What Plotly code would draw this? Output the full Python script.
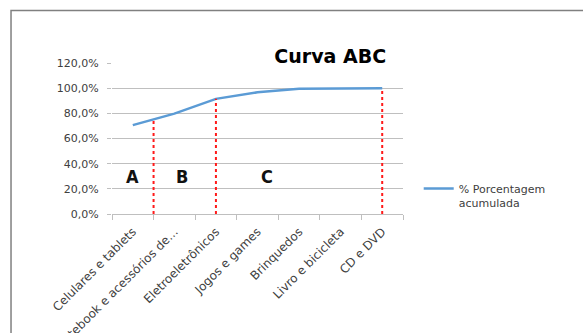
import plotly.graph_objects as go

categories = ["Celulares e tablets", "Notebook e acessórios de...", "Eletroeletrônicos",
              "Jogos e games", "Brinquedos", "Livro e bicicleta", "CD e DVD"]
cumulative_pct = [70.6, 79.8, 91.5, 96.7, 99.6, 99.9, 100.0]

divider_x = [0.5, 2, 6]
divider_top = [74.8, 91.5, 100.0]

zone_labels = ["A", "B", "C"]
zone_label_x = [0, 1.18, 3.23]
zone_label_y = [30, 30, 30]

y_ticks = [0, 20, 40, 60, 80, 100, 120]
y_tick_labels = ["0,0%", "20,0%", "40,0%", "60,0%", "80,0%", "100,0%", "120,0%"]

grid_col = "#bfbfbf"
txt_col = "#404040"
font_fam = "DejaVu Sans, Liberation Sans, sans-serif"

fig = go.Figure()
fig.add_trace(go.Scatter(
    x=categories, y=cumulative_pct, mode="lines",
    name="% Porcentagem<br>acumulada",
    line=dict(color="#5b9bd5", width=2.5),
    xaxis="x", yaxis="y", showlegend=True, hoverinfo="skip"))

dx, dy = [], []
for xv, top in zip(divider_x, divider_top):
    dx += [xv, xv, None]
    dy += [0, top, None]
fig.add_trace(go.Scatter(
    x=dx, y=dy, mode="lines", xaxis="x2", yaxis="y",
    line=dict(color="#ff1a1a", width=2, dash="dot"),
    showlegend=False, hoverinfo="skip"))

for lab, xv, yv in zip(zone_labels, zone_label_x, zone_label_y):
    fig.add_annotation(x=xv, y=yv, xref="x2", yref="y", text=lab, showarrow=False,
                       font=dict(family="DejaVu Sans Condensed, Liberation Sans Narrow, sans-serif",
                                 size=18, color="#111111", weight="bold"))

fig.add_shape(type="rect", xref="paper", yref="paper",
              x0=-0.347, x1=2.0, y0=-1.0, y1=1.348,
              line=dict(color="#808080", width=1.5), fillcolor="rgba(0,0,0,0)")

fig.update_layout(
    width=583, height=333,
    margin=dict(l=112, r=180, t=63, b=119),
    paper_bgcolor="white", plot_bgcolor="white",
    font=dict(family=font_fam, size=11, color=txt_col),
    title=dict(text="<b>Curva ABC</b>", x=0.75, xref="paper", xanchor="center",
               y=0.83, yref="container", yanchor="middle",
               font=dict(family=font_fam, size=19, color="#000000")),
    xaxis=dict(type="category", categoryorder="array", categoryarray=categories,
               range=[-0.5, 6.5], tickson="boundaries", ticks="outside", ticklen=5,
               tickcolor=grid_col, showline=True, linecolor=grid_col, linewidth=1,
               showgrid=False, tickangle=-45, automargin=False, ticklabelstandoff=5,
               tickfont=dict(family=font_fam, size=12, color=txt_col)),
    xaxis2=dict(overlaying="x", range=[-0.5, 6.5], visible=False),
    yaxis=dict(range=[0, 120], tickmode="array", tickvals=y_ticks, ticktext=y_tick_labels,
               showgrid=True, gridcolor=grid_col, gridwidth=1, zeroline=False,
               showline=False, ticks="outside", ticklen=4, tickcolor=grid_col,
               ticklabelstandoff=6, automargin=False,
               tickfont=dict(family=font_fam, size=11, color=txt_col)),
    legend=dict(x=1.054, y=0.26, xanchor="left", yanchor="top", valign="top",
                bgcolor="rgba(0,0,0,0)", font=dict(family=font_fam, size=11, color=txt_col),
                tracegroupgap=0),
    showlegend=True,
)

fig.write_html("out.html", config={"displayModeBar": False},
               post_script="document.body.style.margin='0px';")
